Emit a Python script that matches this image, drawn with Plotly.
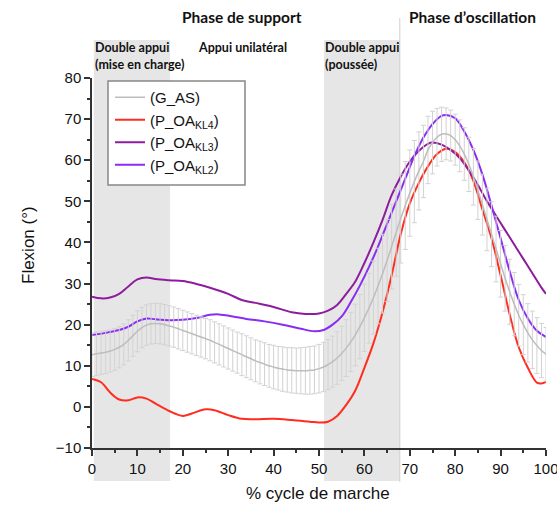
import plotly.graph_objects as go

# ---------------- data ----------------
pct = list(range(0, 101))

gas_mean = [12.7, 12.9, 13.1, 13.3, 13.6, 14.0, 14.5, 15.2, 16.2, 17.3,
            18.4, 19.3, 19.9, 20.2, 20.3, 20.2, 20.0, 19.7, 19.4, 19.0,
            18.6, 18.2, 17.8, 17.4, 17.0, 16.6, 16.2, 15.7, 15.2, 14.7,
            14.2, 13.7, 13.2, 12.7, 12.2, 11.7, 11.2, 10.8, 10.4, 10.0,
            9.7, 9.4, 9.2, 9.0, 8.9, 8.8, 8.8, 8.8, 8.9, 9.0,
            9.3, 9.7, 10.3, 11.0, 11.9, 13.0, 14.3, 15.8, 17.5, 19.5,
            21.7, 24.0, 26.6, 29.4, 32.4, 35.6, 39.0, 42.4, 45.8, 49.0,
            52.0, 54.8, 57.4, 59.7, 62.5, 64.3, 65.6, 66.3, 66.4, 66.0,
            65.0, 63.5, 61.5, 59.0, 56.0, 52.7, 49.2, 45.6, 42.0, 38.4,
            34.8, 31.3, 28.0, 25.0, 22.3, 20.0, 18.0, 16.3, 14.9, 13.7,
            12.8]

gas_sd = [5.3, 5.3, 5.2, 5.2, 5.1, 5.1, 5.0, 5.0, 5.0, 5.0,
          5.0, 4.9, 4.9, 4.9, 4.9, 4.9, 4.9, 4.9, 4.9, 4.9,
          4.9, 4.9, 4.9, 4.9, 4.9, 4.9, 5.0, 5.0, 5.0, 5.0,
          5.0, 5.0, 5.0, 5.1, 5.1, 5.1, 5.1, 5.2, 5.2, 5.2,
          5.3, 5.3, 5.4, 5.4, 5.5, 5.5, 5.6, 5.7, 5.8, 5.8,
          5.9, 6.0, 6.1, 6.2, 6.4, 6.6, 6.9, 7.2, 7.5, 7.8,
          8.2, 8.5, 8.9, 9.2, 9.6, 10.0, 10.3, 10.6, 10.8, 10.7,
          10.5, 10.0, 9.5, 8.8, 8.2, 7.6, 7.0, 6.6, 6.3, 6.2,
          6.2, 6.3, 6.4, 6.6, 6.9, 7.1, 7.4, 7.6, 7.9, 8.0,
          8.1, 8.0, 7.9, 7.7, 7.5, 7.3, 7.1, 7.0, 6.8, 6.6,
          6.5]

kl4_x = [0, 2, 4, 6, 8, 10, 12, 14, 17, 20, 22, 25, 27, 30, 33, 36, 40, 44, 48,
         50, 52, 54, 56, 58, 60, 62, 64, 66, 68, 70, 72, 74, 76, 78, 80, 82, 84,
         86, 88, 90, 92, 94, 96, 98, 99, 100]
kl4_y = [6.8, 6.0, 3.5, 1.8, 1.6, 2.3, 2.0, 0.8, -1.0, -2.2, -1.6, -0.6, -0.8,
         -2.0, -2.9, -3.0, -2.9, -3.2, -3.6, -3.8, -3.6, -2.2, 0.5, 4.0, 9.5,
         15.5, 23.0, 32.0, 42.0, 49.5, 54.5, 58.5, 61.5, 62.8, 62.0, 59.5, 55.0,
         48.0, 41.0, 32.0, 22.5, 14.5, 9.5, 5.9, 5.7, 6.1]

kl3_x = [0, 2, 4, 6, 8, 10, 12, 14, 17, 20, 23, 26, 30, 33, 36, 40, 44, 47, 50,
         52, 54, 56, 58, 60, 62, 64, 66, 68, 70, 72, 74, 75, 77, 79, 81, 83, 85,
         87, 89, 91, 93, 95, 97, 99, 100]
kl3_y = [26.8, 26.4, 26.6, 27.5, 29.3, 31.0, 31.5, 31.1, 30.8, 30.6, 29.9, 29.0,
         27.5, 26.0, 25.3, 24.3, 23.0, 22.6, 22.7, 23.4, 24.8, 27.5, 30.5, 35.0,
         40.0, 45.5, 51.5, 56.0, 59.7, 62.3, 64.0, 64.3, 63.8, 62.5, 60.5, 57.5,
         54.0, 50.0, 46.5, 43.0, 39.5, 36.0, 32.5, 29.0, 27.5]

kl2_x = [0, 3, 6, 8, 10, 12, 14, 17, 20, 23, 26, 28, 31, 34, 38, 42, 46, 49, 51,
         53, 55, 57, 59, 61, 63, 65, 67, 69, 71, 73, 75, 77, 78, 80, 82, 84, 86,
         88, 90, 92, 94, 96, 98, 100]
kl2_y = [17.5, 18.0, 18.7, 19.5, 20.8, 21.5, 21.3, 21.1, 21.2, 21.6, 22.4, 22.5,
         22.0, 21.4, 20.8, 20.0, 19.0, 18.4, 18.7, 20.0, 22.0, 25.5, 29.5, 34.0,
         39.0, 44.5, 50.0, 55.5, 61.0, 65.5, 68.8, 70.8, 71.0, 70.2, 67.0, 62.5,
         56.5, 49.0, 41.0, 33.0, 26.0, 21.5, 18.5, 17.0]

series_names = ["(G_AS)", "(P_OA<sub>KL4</sub>)", "(P_OA<sub>KL3</sub>)", "(P_OA<sub>KL2</sub>)"]
series_colors = ["#bdbdbd", "#ff2d1f", "#8e1c9e", "#8a2cf2"]

x_ticks = [0, 10, 20, 30, 40, 50, 60, 70, 80, 90, 100]
y_ticks = [-10, 0, 10, 20, 30, 40, 50, 60, 70, 80]

double_support_1 = (0.4, 17.2)
double_support_2 = (51.1, 67.8)
toe_off = 67.8

# ---------------- figure ----------------
W, H = 557, 506
L, R, T, B = 92, 11, 78, 58
pw, ph = W - L - R, H - T - B


def px(xp):
    return (xp - L) / pw


def py(yp):
    return (H - B - yp) / ph


fig = go.Figure()

fig.add_trace(go.Scatter(x=kl4_x, y=kl4_y, mode="lines", name=series_names[1],
                         line=dict(color=series_colors[1], width=2, shape="spline"),
                         legendrank=2))
fig.add_trace(go.Scatter(x=kl3_x, y=kl3_y, mode="lines", name=series_names[2],
                         line=dict(color=series_colors[2], width=2, shape="spline"),
                         legendrank=3))
fig.add_trace(go.Scatter(x=kl2_x, y=kl2_y, mode="lines", name=series_names[3],
                         line=dict(color=series_colors[3], width=2, shape="spline"),
                         legendrank=4))
fig.add_trace(go.Scatter(x=pct, y=gas_mean, mode="lines", name=series_names[0],
                         line=dict(color=series_colors[0], width=1.5, shape="spline"),
                         error_y=dict(type="data", array=gas_sd, color="#d2d2d2",
                                      thickness=1, width=2.5),
                         legendrank=1))

band_color = "#e6e6e6"
for x0, x1 in (double_support_1, double_support_2):
    fig.add_shape(type="rect", xref="x", yref="paper", x0=x0, x1=x1,
                  y0=py(481), y1=py(40), fillcolor=band_color,
                  line=dict(width=0), layer="below")
fig.add_shape(type="line", xref="x", yref="paper", x0=toe_off, x1=toe_off,
              y0=py(482), y1=py(18), line=dict(color="#cfcfcf", width=1),
              layer="below")
# legend frame
fig.add_shape(type="rect", xref="paper", yref="paper",
              x0=px(108), x1=px(245), y0=py(185), y1=py(81),
              fillcolor="white", line=dict(color="#888888", width=1.5),
              layer="above")

hdr_font = dict(family="Lato", size=15.5, color="#111111")
sub_font = dict(family="Lato", size=12.5, color="#111111")
annots = [
    dict(text="<b>Phase de support</b>", x=px(242), y=py(17), font=hdr_font,
         xanchor="center", yanchor="middle"),
    dict(text="<b>Phase d’oscillation</b>", x=px(472), y=py(17), font=hdr_font,
         xanchor="center", yanchor="middle"),
    dict(text="<b>Double appui</b>", x=px(94), y=py(48), font=sub_font,
         xanchor="left", yanchor="middle"),
    dict(text="<b>(mise en charge)</b>", x=px(94), y=py(65), font=sub_font,
         xanchor="left", yanchor="middle"),
    dict(text="<b>Appui unilatéral</b>", x=px(197), y=py(48), font=sub_font,
         xanchor="left", yanchor="middle"),
    dict(text="<b>Double appui</b>", x=px(324), y=py(48), font=sub_font,
         xanchor="left", yanchor="middle"),
    dict(text="<b>(poussée)</b>", x=px(324), y=py(65), font=sub_font,
         xanchor="left", yanchor="middle"),
    dict(text="% cycle de marche", x=px(318), y=py(493),
         font=dict(family="Liberation Sans", size=17, color="#111111"),
         xanchor="center", yanchor="middle"),
    dict(text="Flexion (°)", x=px(28), y=py(245), textangle=-90,
         font=dict(family="Liberation Sans", size=17, color="#111111"),
         xanchor="center", yanchor="middle"),
]
for a in annots:
    fig.add_annotation(xref="paper", yref="paper", showarrow=False,
                       borderpad=0, **a)

axis_common = dict(showgrid=False, zeroline=False, showline=True,
                   linecolor="#333333", linewidth=1.5, ticks="outside",
                   ticklen=6, tickwidth=1.5, tickcolor="#333333",
                   tickfont=dict(family="Liberation Sans", size=15, color="#111111"),
                   mirror=False, automargin=False, ticklabeloverflow="allow")

fig.update_layout(
    width=W, height=H,
    margin=dict(l=L, r=R, t=T, b=B, pad=0),
    paper_bgcolor="white", plot_bgcolor="rgba(0,0,0,0)",
    font=dict(family="Liberation Sans", color="#111111"),
    xaxis=dict(range=[0, 100], tickvals=x_ticks,
               minor=dict(dtick=5, ticks="outside", ticklen=3, tickcolor="#333333"),
               **axis_common),
    yaxis=dict(range=[-10, 80], tickvals=y_ticks,
               minor=dict(dtick=5, ticks="outside", ticklen=3, tickcolor="#333333"),
               **axis_common),
    legend=dict(x=px(110), y=py(81), xanchor="left", yanchor="top",
                bgcolor="rgba(0,0,0,0)", borderwidth=0,
                font=dict(family="Liberation Sans", size=15, color="#111111"),
                tracegroupgap=0, itemwidth=30),
    showlegend=True,
)

fig.write_html("out.html", config={"displayModeBar": False},
               post_script="document.body.style.margin='0';")
